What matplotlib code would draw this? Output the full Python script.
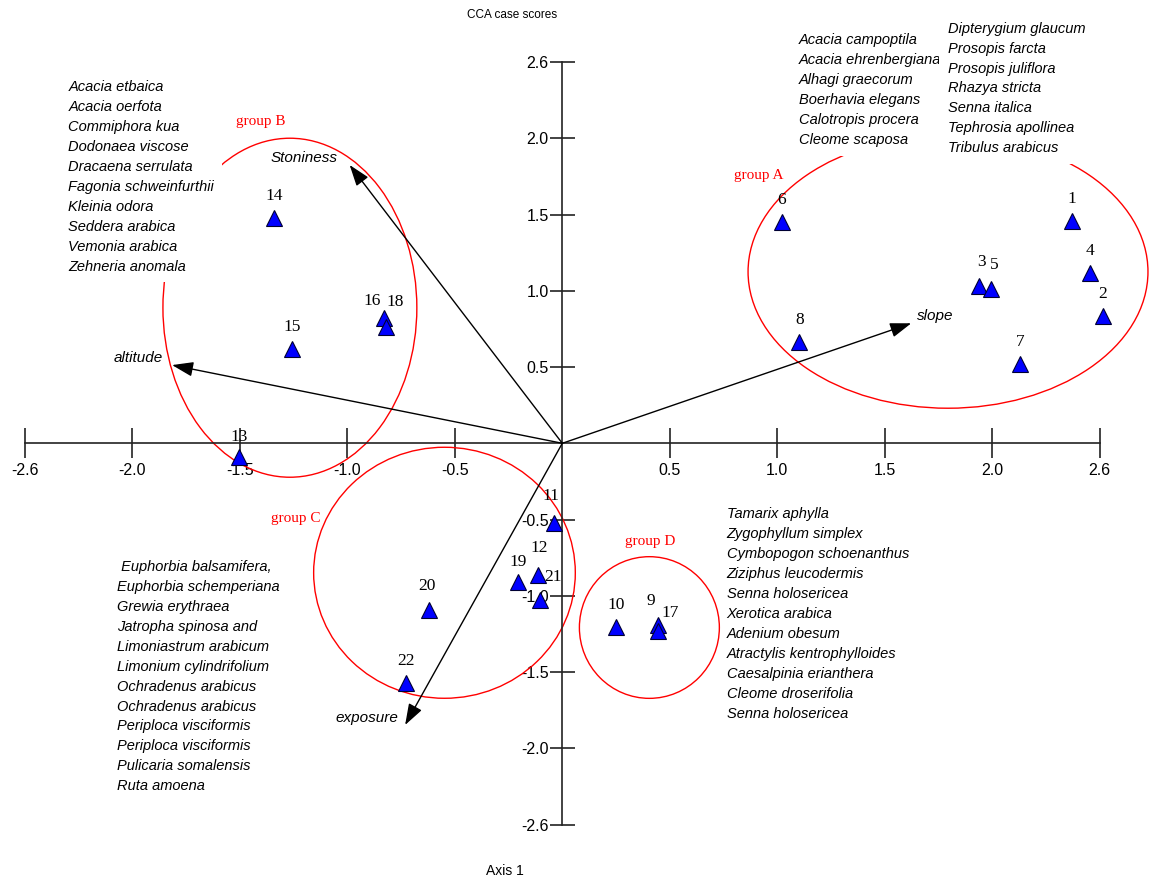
import matplotlib
matplotlib.use('Agg')
import matplotlib.pyplot as plt
from matplotlib.patches import Ellipse

# site scores (axis 1, axis 2)
sites = ['1', '2', '3', '4', '5', '6', '7', '8', '9', '10', '11',
         '12', '13', '14', '15', '16', '17', '18', '19', '20', '21', '22']
site_x = [2.369, 2.514, 1.938, 2.453, 1.995, 1.022, 2.130, 1.102, 0.444, 0.250, -0.040,
          -0.112, -1.505, -1.339, -1.256, -0.830, 0.447, -0.820, -0.206, -0.619, -0.103, -0.726]
site_y = [1.460, 0.835, 1.031, 1.119, 1.014, 1.453, 0.520, 0.666, -1.192, -1.207, -0.525,
          -0.864, -0.088, 1.475, 0.616, 0.820, -1.229, 0.765, -0.907, -1.093, -1.028, -1.574]

# environmental vectors
env_names = ['Stoniness', 'altitude', 'slope', 'exposure']
env_x = [-0.989, -1.815, 1.623, -0.731]
env_y = [1.825, 0.513, 0.787, -1.847]

# groups: centre and extent of each circle
groups = ['group A', 'group B', 'group C', 'group D']
group_cx = [1.794, -1.267, -0.548, 0.405]
group_cy = [1.125, 0.889, -0.849, -1.208]
group_w = [1.86, 1.181, 1.217, 0.651]
group_h = [1.79, 2.223, 1.646, 0.929]
group_label_x = [0.915, -1.402, -1.239, 0.408]
group_label_y = [1.759, 2.109, -0.492, -0.645]

species_a1 = ['Acacia campoptila', 'Acacia ehrenbergiana', 'Alhagi graecorum',
              'Boerhavia elegans', 'Calotropis procera', 'Cleome scaposa']
species_a2 = ['Dipterygium glaucum', 'Prosopis farcta', 'Prosopis juliflora', 'Rhazya stricta',
              'Senna italica', 'Tephrosia apollinea', 'Tribulus arabicus']
species_b = ['Acacia etbaica', 'Acacia oerfota', 'Commiphora kua', 'Dodonaea viscose',
             'Dracaena serrulata', 'Fagonia schweinfurthii', 'Kleinia odora', 'Seddera arabica',
             'Vemonia arabica', 'Zehneria anomala']
species_c = [' Euphorbia balsamifera,', 'Euphorbia schemperiana', 'Grewia erythraea',
             'Jatropha spinosa and', 'Limoniastrum arabicum', 'Limonium cylindrifolium',
             'Ochradenus arabicus', 'Ochradenus arabicus', 'Periploca visciformis',
             'Periploca visciformis', 'Pulicaria somalensis', 'Ruta amoena']
species_d = ['Tamarix aphylla', 'Zygophyllum simplex', 'Cymbopogon schoenanthus',
             'Ziziphus leucodermis', 'Senna holosericea', 'Xerotica arabica', 'Adenium obesum',
             'Atractylis kentrophylloides', 'Caesalpinia erianthera', 'Cleome droserifolia',
             'Senna holosericea']
# where each list is anchored (upper left corner) and how much circle it hides
species_blocks = [(species_a1, 1.099, 2.689, 0.6), (species_a2, 1.793, 2.765, 0.6),
                  (species_b, -2.297, 2.382, 0.55), (species_c, -2.073, -0.765, 0.3),
                  (species_d, 0.765, -0.420, 0.3)]

tick_pos = [-2.5, -2.0, -1.5, -1.0, -0.5, 0.5, 1.0, 1.5, 2.0, 2.5]
tick_lab = ['-2.6', '-2.0', '-1.5', '-1.0', '-0.5', '0.5', '1.0', '1.5', '2.0', '2.6']

# label nudges in pixels (dx, dy)
nudge = {'3': (3, 24), '5': (3, 24), '11': (-3, 27), '12': (1, 27), '16': (-12, 17),
         '18': (9, 25), '19': (0, 20), '21': (13, 23), '9': (-7, 24), '17': (12, 18),
         '13': (0, 20), '20': (-2, 24)}

fig = plt.figure(figsize=(11.49, 8.81), dpi=100)
ax = fig.add_axes([0, 0, 1, 1])
ax.set_xlim(-2.6153, 2.7288)
ax.set_ylim(-2.8702, 2.9069)

for s in ['top', 'right']:
    ax.spines[s].set_visible(False)
ax.spines['left'].set_position(('data', 0))
ax.spines['bottom'].set_position(('data', 0))
ax.spines['left'].set_bounds(-2.5, 2.5)
ax.spines['bottom'].set_bounds(-2.5, 2.5)
for s in ['left', 'bottom']:
    ax.spines[s].set_linewidth(1.2)
    ax.spines[s].set_color('#222222')
ax.set_xticks(tick_pos, tick_lab)
ax.set_yticks(tick_pos, tick_lab)
ax.tick_params(axis='x', direction='inout', length=21.6, width=1.2, color='#222222',
               labelsize=11.5, pad=3.5)
ax.tick_params(axis='y', direction='inout', length=18, width=1.2, color='#222222',
               labelsize=11.5, pad=0.8)
for lab in ax.get_xticklabels() + ax.get_yticklabels():
    lab.set_fontfamily('Liberation Sans')
ax.patch.set_alpha(0)

# group circles
for i in range(len(groups)):
    ax.add_patch(Ellipse((group_cx[i], group_cy[i]), group_w[i], group_h[i],
                         fill=False, ec='red', lw=1.0, zorder=2))
    ax.text(group_label_x[i], group_label_y[i], groups[i], color='red', fontsize=11,
            family='Liberation Serif', ha='center', va='center', zorder=4,
            bbox=dict(boxstyle='square,pad=0.1', fc='white', ec='none'))

# species lists, with white box that hides the circle behind
for names, x0, y0, pad in species_blocks:
    ax.text(x0, y0, '\n'.join(names), fontsize=10.5, style='italic',
            family='Liberation Sans', ha='left', va='top', linespacing=1.54, zorder=5,
            bbox=dict(boxstyle='square,pad=%s' % pad, fc='white', ec='none'))

# environmental arrows
env_off = {'Stoniness': (-46, 7, 'center'), 'altitude': (-9, 7, 'right'),
           'slope': (6, 7, 'left'), 'exposure': (-7, 7, 'right')}
for i in range(len(env_names)):
    ax.annotate('', xy=(env_x[i], env_y[i]), xytext=(0, 0), zorder=3,
                arrowprops=dict(arrowstyle='-|>,head_length=1.3,head_width=0.45',
                                mutation_scale=10, lw=1.0, color='black',
                                shrinkA=0, shrinkB=0))
    dx, dy, ha = env_off[env_names[i]]
    ax.annotate(env_names[i], xy=(env_x[i], env_y[i]), xytext=(dx, dy),
                textcoords='offset pixels', ha=ha, va='center', fontsize=11,
                style='italic', family='Liberation Sans', zorder=6)

# site points
ax.plot(site_x, site_y, ls='none', marker='^', markersize=12, mfc='#0000ff',
        mec='#000033', mew=0.8, zorder=7)
for i in range(len(sites)):
    dx, dy = nudge.get(sites[i], (0, 22))
    ax.annotate(sites[i], xy=(site_x[i], site_y[i]), xytext=(dx, dy),
                textcoords='offset pixels', ha='center', va='center', fontsize=12.5,
                family='Liberation Serif', zorder=8)

fig.text(512 / 1149, 1 - 15 / 881, 'CCA case scores', ha='center', va='center',
         fontsize=8.5, family='Liberation Sans')
fig.text(505 / 1149, 1 - 871 / 881, 'Axis 1', ha='center', va='center',
         fontsize=10, family='Liberation Sans')

fig.savefig('out.png', dpi=100)
